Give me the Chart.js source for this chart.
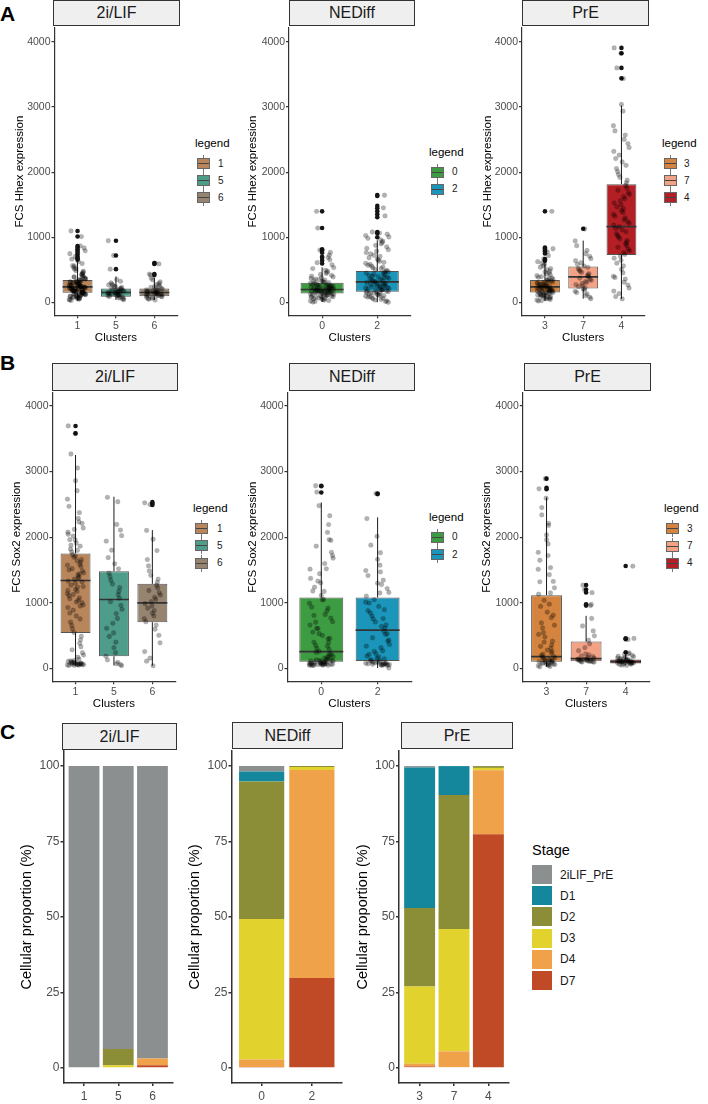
<!DOCTYPE html>
<html>
<head>
<meta charset="utf-8">
<script src="https://cdn.jsdelivr.net/npm/chart.js@4.4.1/dist/chart.umd.min.js"></script>
<style>
  body { margin: 0; background: #fff; font-family: 'Liberation Sans', Arial, sans-serif; }
  #fig { position: relative; width: 708px; height: 1104px; overflow: hidden; background: #fff; }
  canvas { position: absolute; }
  .strip { position: absolute; box-sizing: border-box; border: 1px solid #333; background: #efefef;
           font-size: 16px; color: #1a1a1a; display: flex; align-items: center; justify-content: center; }
  .txt { position: absolute; line-height: 1; color: #1a1a1a; white-space: nowrap; }
  .bkey { position: absolute; width: 15px; height: 17px; }
  .bkey s { position: absolute; left: 7px; top: 0; width: 1px; height: 17px; background: #777; }
  .bkey i { position: absolute; left: 1px; top: 3px; width: 11px; height: 9px; border: 1px solid #666; }
  .bkey b { position: absolute; left: 2px; top: 8px; width: 11px; height: 1px; background: #444; }
  .skey { position: absolute; width: 20px; height: 19px; }
</style>
</head>
<body>
<div id="fig"></div>
<script>
// ---- data ----
const CLUSTERS_2iLIF = ['1', '5', '6'];
const CLUSTERS_NEDiff = ['0', '2'];
const CLUSTERS_PrE = ['3', '7', '4'];

const COLORS_2iLIF = ['#b9855a', '#4e9c8a', '#978470'];
const COLORS_NEDiff = ['#3d9b42', '#1b95b9'];
const COLORS_PrE = ['#d4843e', '#f4a286', '#b41f25'];

const Y_TICKS_EXPR = [0, 1000, 2000, 3000, 4000];
const Y_TICKS_PROP = [0, 25, 50, 75, 100];

// box stats: [lower whisker, q1, median, q3, upper whisker]
const HHEX_STATS_2iLIF = [[32, 149, 241, 344, 630], [40, 87, 154, 215, 400], [38, 97, 154, 215, 380]];
const HHEX_OUT_2iLIF = [
  [1098, 1012, 868, 842, 815, 790, 762, 735, 702, 681, 658],
  [948, 721, 512],
  [605, 592, 437, 421]
];
const HHEX_PTS_2iLIF = [
  [32, 45, 58, 66, 74, 83, 91, 98, 104, 113, 119, 126, 131, 138, 144, 151, 157, 162, 169, 176, 181, 188, 194, 201, 207, 214, 221, 228, 236, 243, 249, 257, 264, 272, 281, 289, 298, 307, 318, 327, 339, 351, 362, 376, 391, 404, 422, 441, 463, 487, 512, 538, 566, 597, 628, 665, 702, 748, 793, 836, 868, 1012, 1098,
   40, 52, 61, 70, 79, 88, 95, 102, 109, 116, 122, 129, 135, 141, 147, 154, 160, 166, 172, 179, 185, 191, 198, 204, 211, 218, 225, 233, 240, 247, 254, 262, 269, 277, 285, 294, 303, 313, 324, 336, 348, 361, 375, 392, 410, 430, 455, 482, 520, 560],
  [42, 55, 68, 81, 92, 101, 108, 116, 124, 131, 139, 146, 152, 159, 167, 174, 182, 191, 199, 208, 219, 232, 246, 263, 281, 302, 326, 352, 512, 721, 948,
   60, 85, 104, 120, 135, 149, 162, 178, 195, 212, 240, 270],
  [38, 52, 64, 77, 88, 96, 104, 112, 119, 127, 134, 141, 149, 156, 163, 171, 179, 188, 197, 207, 218, 231, 248, 269, 293, 318, 347, 372, 421, 437, 592, 605,
   58, 82, 100, 116, 131, 145, 160, 175, 192, 212, 238, 280]
];

const HHEX_STATS_NEDiff = [[8, 138, 200, 303, 540], [4, 164, 318, 482, 955]];
const HHEX_OUT_NEDiff = [
  [1398, 1142, 818, 802, 765, 701, 686, 643, 598],
  [1648, 1635, 1482, 1447, 1398, 1352, 1308, 1082, 1061, 1002]
];
const HHEX_PTS_NEDiff = [
  [8, 22, 38, 51, 63, 74, 85, 94, 103, 111, 119, 126, 134, 141, 148, 155, 162, 169, 176, 183, 190, 197, 204, 212, 220, 228, 237, 246, 255, 264, 275, 286, 298, 311, 326, 342, 360, 381, 404, 431, 462, 497, 536, 578, 612, 655, 690, 725, 768, 805, 1142, 1398,
   15, 30, 45, 57, 69, 80, 89, 98, 107, 115, 123, 130, 137, 144, 151, 158, 165, 172, 179, 186, 193, 200, 208, 216, 224, 232, 241, 250, 260, 270, 281, 292, 305, 318, 334, 351, 370, 392, 418, 446, 480, 520],
  [4, 26, 48, 67, 84, 98, 112, 125, 137, 149, 160, 171, 183, 194, 206, 218, 231, 244, 257, 271, 285, 299, 314, 329, 345, 361, 378, 396, 414, 433, 452, 472, 494, 518, 544, 571, 601, 633, 668, 706, 745, 787, 832, 878, 921, 962, 1005, 1048, 1082, 1328, 1452, 1645,
   14, 37, 58, 76, 91, 105, 118, 131, 143, 155, 166, 177, 189, 200, 212, 224, 237, 250, 264, 278, 292, 306, 321, 337, 353, 370, 387, 405, 423, 442, 462, 483, 506, 531, 558, 586, 617, 650, 687, 725, 766, 810, 855, 900, 942, 984, 1027, 1065]
];

const HHEX_STATS_PrE = [[22, 154, 241, 344, 620], [58, 215, 395, 554, 950], [56, 728, 1164, 1815, 3020]];
const HHEX_OUT_PrE = [
  [1398, 843, 828, 807, 785, 752, 665, 641],
  [1132],
  [3905, 3822, 3598, 3438]
];
const HHEX_PTS_PrE = [
  [22, 38, 55, 69, 82, 94, 105, 116, 126, 136, 145, 154, 163, 172, 181, 190, 199, 208, 217, 226, 235, 245, 255, 266, 278, 290, 303, 317, 332, 348, 366, 387, 411, 438, 468, 503, 541, 582, 627, 668, 718, 778, 825, 1398,
   30, 46, 62, 75, 88, 100, 110, 121, 131, 140, 150, 158, 167, 176, 185, 194, 203, 212, 221, 230, 240, 250, 260, 272, 284, 296, 310, 324, 340, 357, 376, 398, 424, 452, 485, 520, 560, 605],
  [58, 82, 108, 131, 152, 172, 191, 209, 226, 243, 259, 276, 292, 308, 324, 341, 357, 374, 391, 408, 425, 443, 461, 480, 499, 519, 540, 562, 586, 612, 641, 673, 708, 748, 801, 872, 945, 1128],
  [56, 92, 138, 175, 221, 268, 312, 359, 384, 402, 455, 508, 562, 603, 648, 681, 712, 738, 765, 791, 818, 846, 871, 898, 924, 951, 978, 1004, 1031, 1058, 1085, 1112, 1138, 1162, 1188, 1214, 1241, 1268, 1296, 1324, 1352, 1381, 1410, 1439, 1468, 1498, 1528, 1559, 1590, 1622, 1655, 1688, 1722, 1758, 1795, 1834, 1875, 1918, 1962, 2008, 2055, 2104, 2155, 2208, 2262, 2318, 2376, 2438, 2502, 2568, 2632, 2711, 2935, 3038, 3435, 3598, 3822, 3905]
];

const SOX2_STATS_2iLIF = [[48, 543, 1340, 1751, 3250], [46, 188, 1051, 1482, 2614], [42, 706, 1000, 1289, 2107]];
const SOX2_OUT_2iLIF = [[3692, 3578], [], [2532, 2508, 2489]];
const SOX2_PTS_2iLIF = [
  [48, 56, 63, 70, 78, 86, 95, 108, 124, 145, 172, 205, 242, 285, 332, 384, 437, 492, 548, 602, 655, 706, 754, 800, 845, 888, 928, 966, 1003, 1039, 1074, 1108, 1141, 1174, 1206, 1238, 1269, 1300, 1331, 1362, 1393, 1424, 1455, 1487, 1519, 1552, 1586, 1621, 1657, 1694, 1733, 1774, 1817, 1862, 1910, 1961, 2016, 2075, 2139, 2209, 2286, 2372, 2468, 2578, 2706, 2858, 3052, 3265, 3578, 3692,
   50, 53, 57, 60, 62, 65, 67, 72, 75, 81, 88, 92, 100, 118, 952, 1012, 1063, 1127, 1188, 1247, 1318, 1376, 1441, 1503, 1572, 1641, 1712, 1798, 1876, 1958, 2043, 2117, 2230],
  [46, 58, 72, 95, 132, 188, 241, 318, 402, 488, 541, 612, 689, 762, 836, 902, 963, 1018, 1071, 1124, 1176, 1231, 1287, 1342, 1398, 1452, 1518, 1594, 1688, 1802, 1938, 2022, 2108, 2192, 2538, 2605],
  [42, 112, 158, 258, 392, 506, 598, 662, 712, 758, 801, 842, 881, 918, 952, 986, 1018, 1051, 1084, 1118, 1152, 1188, 1226, 1268, 1312, 1362, 1418, 1486, 1562, 1658, 1796, 1968, 2102, 2495, 2522]
];

const SOX2_STATS_NEDiff = [[46, 102, 259, 1081, 2528], [8, 117, 584, 1081, 2300]];
const SOX2_OUT_NEDiff = [[2782, 2775, 2680], [2662, 2655]];
const SOX2_PTS_NEDiff = [
  [46, 52, 58, 63, 68, 74, 79, 85, 91, 97, 104, 112, 121, 133, 148, 168, 194, 225, 262, 305, 352, 401, 452, 504, 556, 608, 661, 714, 768, 823, 878, 935, 993, 1052, 1112, 1174, 1238, 1304, 1372, 1443, 1518, 1597, 1680, 1768, 1862, 1963, 2072, 2191, 2325, 2478, 2685, 2782,
   48, 50, 54, 56, 60, 61, 65, 66, 70, 72, 76, 78, 82, 88, 94, 100, 108, 116, 126, 140, 158, 182, 212, 248, 290, 340, 395, 458, 530, 612, 705, 808, 920, 1045, 1180, 1330, 1512, 1720, 1950],
  [8, 48, 56, 64, 72, 81, 90, 101, 115, 133, 158, 190, 228, 271, 318, 367, 418, 469, 519, 568, 616, 663, 709, 755, 801, 848, 896, 945, 996, 1048, 1102, 1158, 1217, 1279, 1345, 1415, 1491, 1573, 1662, 1762, 1878, 2012, 2282, 2662,
   50, 54, 58, 61, 66, 69, 75, 78, 84, 87, 95, 106, 122, 146, 178, 215, 262, 340, 432, 530, 640, 760, 880, 1010, 1150, 1300, 1470]
];

const SOX2_STATS_PrE = [[28, 102, 183, 1117, 2604], [98, 112, 152, 411, 802], [48, 76, 107, 137, 225]];
const SOX2_OUT_PrE = [[2890, 2752, 2728], [1272, 1202, 1158, 978, 958], [1560, 462, 445, 248]];
const SOX2_PTS_PrE = [
  [28, 42, 55, 66, 76, 86, 95, 104, 114, 126, 141, 160, 185, 218, 258, 305, 358, 416, 479, 546, 618, 694, 774, 858, 946, 1038, 1132, 1228, 1326, 1428, 1535, 1648, 1768, 1896, 2032, 2178, 2338, 2592, 2735, 2890,
   32, 48, 60, 70, 80, 90, 99, 109, 120, 134, 150, 172, 200, 236, 282, 338, 402, 520, 660, 812, 980, 1150, 1320, 1510, 1720, 1960, 2210, 2450],
  [98, 104, 110, 116, 123, 131, 140, 152, 168, 192, 225, 272, 318, 376, 432, 498, 572, 648, 762, 958, 975, 1155, 1198, 1268,
   100, 106, 113, 119, 127, 135, 146, 160, 180, 208],
  [48, 62, 72, 80, 86, 92, 98, 104, 110, 116, 123, 131, 140, 152, 168, 188, 212, 238, 442, 458, 1558,
   52, 66, 76, 83, 89, 95, 101, 107, 113, 119, 127, 135, 146, 160, 178, 200, 225]
];

// stacked proportions, one row per stage, one column per cluster
const STAGES = ['2iLIF_PrE', 'D1', 'D2', 'D3', 'D4', 'D7'];
const STAGE_COLORS = ['#8b8f8f', '#15879d', '#8b8e36', '#e2d22d', '#f0a24a', '#c14a26'];
const PROP_2iLIF = [[100, 93.7, 96.9], [0, 0, 0], [0, 5.4, 0], [0, 0.9, 0], [0, 0, 2.2], [0, 0, 0.9]];
const PROP_NEDiff = [[1.8, 0], [3.3, 0], [45.6, 0.3], [46.5, 1.0], [2.5, 68.9], [0.3, 29.8]];
const PROP_PrE = [[0.5, 0, 0], [46.5, 9.6, 0], [26.0, 44.4, 0.6], [25.6, 40.5, 0.8], [0.9, 5.5, 21.2], [0.5, 0, 77.4]];

// fixed horizontal jitter offsets (in cluster units)
const JITTER = [-0.17, 0.09, -0.04, 0.2, -0.12, 0.14, 0.02, -0.21, 0.06, -0.08, 0.17, -0.01, 0.11, -0.15, 0.04,
                0.21, -0.1, 0.07, -0.19, 0.13, -0.06, 0.0, 0.18, -0.13, 0.1, -0.03, 0.15, -0.2, 0.05, -0.09, 0.12];

// ---- layout ----
Chart.defaults.font.family = "'Liberation Sans', Arial, sans-serif";
Chart.defaults.animation = false;

const PAD_T = 12, PAD_R = 4;
const BOX_W = 0.78;
const fig = document.getElementById('fig');

function addEl(cls, css, text) {
  let d = document.createElement('div');
  d.className = cls;
  Object.assign(d.style, css);
  if (text != null) d.textContent = text;
  fig.appendChild(d);
  return d;
}

function txt(x, yc, size, text, color) {
  return addEl('txt', { left: x + 'px', top: (yc - size / 2) + 'px', fontSize: size + 'px', color: color || '#1a1a1a' }, text);
}

function strip(x, y, w, h, text) {
  addEl('strip', { left: x + 'px', top: y + 'px', width: w + 'px', height: h + 'px' }, text);
}

function makeCanvas(g) {
  let c = document.createElement('canvas');
  let w = Math.round(g.yW + (g.right - g.left) + PAD_R);
  let h = Math.round(PAD_T + (g.bottom - g.top) + g.xH);
  c.width = w; c.height = h;
  c.style.left = (g.left - g.yW) + 'px';
  c.style.top = (g.top - PAD_T) + 'px';
  c.style.width = w + 'px'; c.style.height = h + 'px';
  fig.appendChild(c);
  return c;
}

function xScale(labels, g, title) {
  return {
    type: 'linear', min: 0.4, max: labels.length + 0.6, offset: false, stacked: g.stacked,
    afterBuildTicks: s => { s.ticks = labels.map((l, i) => ({ value: i + 1 })); },
    afterFit: s => { s.height = g.xH; },
    ticks: { callback: v => labels[Math.round(v) - 1], font: { size: g.tickFs }, color: '#4d4d4d',
             padding: g.xPad, maxRotation: 0, autoSkip: false },
    grid: { display: true, drawOnChartArea: false, drawTicks: true, tickLength: 3, color: '#333',
            lineWidth: g.lw, offset: false },
    border: { display: true, color: '#333', width: g.lw },
    title: { display: !!title, text: title, color: '#000', padding: 0, font: { size: 11.5, lineHeight: 1 } }
  };
}

function yScale(ticks, g, title) {
  return {
    type: 'linear', min: g.yMin, max: g.yMax, stacked: g.stacked,
    afterBuildTicks: s => { s.ticks = ticks.map(v => ({ value: v })); },
    afterFit: s => { s.width = g.yW; },
    ticks: { callback: v => String(v), font: { size: g.tickFs }, color: '#4d4d4d', padding: 1 },
    grid: { display: true, drawOnChartArea: false, drawTicks: true, tickLength: 3, color: '#333', lineWidth: g.lw },
    border: { display: true, color: '#333', width: g.lw },
    title: { display: true, text: title, color: '#000', padding: 0, font: { size: g.titleFs, lineHeight: 1 } }
  };
}

function baseOptions(g, labels, yTicks, yTitle, xTitle) {
  return {
    responsive: false,
    events: [],
    layout: { padding: { top: PAD_T, right: PAD_R, bottom: 0, left: 0 } },
    plugins: { legend: { display: false }, tooltip: { enabled: false } },
    scales: { x: xScale(labels, g, xTitle), y: yScale(yTicks, g, yTitle) }
  };
}

function boxChart(g, labels, colors, stats, outs, pts, yTitle) {
  let whisk = [], med = [], box = [], jit = [], out = [];
  stats.forEach((s, i) => {
    let x = i + 1;
    whisk.push({ x, y: s[0] }, { x, y: s[1] }, { x, y: null }, { x, y: s[3] }, { x, y: s[4] }, { x, y: null });
    med.push({ x: x - BOX_W / 2, y: s[2] }, { x: x + BOX_W / 2, y: s[2] }, { x, y: null });
    box.push({ x, y: [s[1], s[3]] });
    outs[i].forEach(v => out.push({ x, y: v }));
    pts[i].forEach((v, k) => jit.push({ x: x + JITTER[(k * 7 + i * 3) % JITTER.length], y: v }));
  });
  new Chart(makeCanvas(g), {
    type: 'bar',
    data: {
      datasets: [
        { type: 'line', data: whisk, borderColor: '#1a1a1a', borderWidth: 1, pointRadius: 0, spanGaps: false, order: 5 },
        { type: 'bar', data: box, backgroundColor: colors, borderColor: '#555', borderWidth: 1,
          borderSkipped: false, categoryPercentage: BOX_W, barPercentage: 1, order: 4 },
        { type: 'line', data: med, borderColor: '#333', borderWidth: 1.7, pointRadius: 0, spanGaps: false, order: 3 },
        { type: 'scatter', data: out, pointRadius: 2.3, backgroundColor: '#151515', borderWidth: 0, order: 2 },
        { type: 'scatter', data: jit, pointRadius: 2.4, backgroundColor: 'rgba(0,0,0,0.3)',
          borderColor: 'rgba(0,0,0,0.12)', borderWidth: 0.6, order: 1 }
      ]
    },
    options: baseOptions(g, labels, Y_TICKS_EXPR, yTitle, 'Clusters')
  });
}

function propChart(g, labels, props) {
  let datasets = STAGES.map((st, si) => ({
    label: st,
    data: props[si].map((v, i) => ({ x: i + 1, y: v })),
    backgroundColor: STAGE_COLORS[si], borderWidth: 0,
    categoryPercentage: 0.9, barPercentage: 1
  })).reverse();
  new Chart(makeCanvas(g), {
    type: 'bar',
    data: { datasets },
    options: baseOptions(g, labels, Y_TICKS_PROP, 'Cellular proportion (%)', null)
  });
}

function boxLegend(x, yc, rows, labels, colors, labelX) {
  txt(x, yc, 11.5, 'legend', '#000');
  rows.forEach((ry, i) => {
    let k = addEl('bkey', { left: (x + 1) + 'px', top: (ry - 8.5) + 'px' });
    k.innerHTML = '<s></s><i style="background:' + colors[i] + '"></i><b></b>';
    txt(labelX, ry, 10, labels[i]);
  });
}

// ---- row A : Hhex ----
const rowA = { top: 28, bottom: 315, yMin: -195, yMax: 4210, xH: 28.75, tickFs: 10.5, titleFs: 11.5, lw: 1.2, xPad: 2, stacked: false };
txt(0, 13, 21, 'A', '#000').style.fontWeight = 'bold';
strip(53, 0, 127, 26, '2i/LIF');
strip(289, 0, 126, 26, 'NEDiff');
strip(522, 0, 127, 26, 'PrE');
boxChart({ ...rowA, left: 54, right: 177, yW: 40.5 }, CLUSTERS_2iLIF, COLORS_2iLIF, HHEX_STATS_2iLIF, HHEX_OUT_2iLIF, HHEX_PTS_2iLIF, 'FCS Hhex expression');
boxChart({ ...rowA, left: 289, right: 411, yW: 42 }, CLUSTERS_NEDiff, COLORS_NEDiff, HHEX_STATS_NEDiff, HHEX_OUT_NEDiff, HHEX_PTS_NEDiff, 'FCS Hhex expression');
boxChart({ ...rowA, left: 522, right: 645, yW: 40 }, CLUSTERS_PrE, COLORS_PrE, HHEX_STATS_PrE, HHEX_OUT_PrE, HHEX_PTS_PrE, 'FCS Hhex expression');
boxLegend(195, 144, [163.5, 180.5, 197.5], CLUSTERS_2iLIF, COLORS_2iLIF, 218);
boxLegend(429, 153, [172, 189], CLUSTERS_NEDiff, COLORS_NEDiff, 452);
boxLegend(662, 144, [163.5, 180.5, 197.5], CLUSTERS_PrE, COLORS_PrE, 684);

// ---- row B : Sox2 ----
const rowB = { top: 393, bottom: 681, yMin: -193, yMax: 4193, xH: 28.75, tickFs: 10.5, titleFs: 11.5, lw: 1.2, xPad: 2, stacked: false };
txt(0, 362, 21, 'B', '#000').style.fontWeight = 'bold';
strip(52, 363, 126, 28, '2i/LIF');
strip(289, 363, 126, 28, 'NEDiff');
strip(524, 363, 127, 28, 'PrE');
boxChart({ ...rowB, left: 52, right: 175, yW: 41.5 }, CLUSTERS_2iLIF, COLORS_2iLIF, SOX2_STATS_2iLIF, SOX2_OUT_2iLIF, SOX2_PTS_2iLIF, 'FCS Sox2 expression');
boxChart({ ...rowB, left: 287, right: 411, yW: 40.5 }, CLUSTERS_NEDiff, COLORS_NEDiff, SOX2_STATS_NEDiff, SOX2_OUT_NEDiff, SOX2_PTS_NEDiff, 'FCS Sox2 expression');
boxChart({ ...rowB, left: 523, right: 650, yW: 41.8 }, CLUSTERS_PrE, COLORS_PrE, SOX2_STATS_PrE, SOX2_OUT_PrE, SOX2_PTS_PrE, 'FCS Sox2 expression');
boxLegend(193, 509, [528.5, 545.5, 563], CLUSTERS_2iLIF, COLORS_2iLIF, 217);
boxLegend(429, 518, [537, 554.5], CLUSTERS_NEDiff, COLORS_NEDiff, 452);
boxLegend(664, 509, [528.5, 546, 563], CLUSTERS_PrE, COLORS_PrE, 687);

// ---- row C : stage proportions ----
const rowC = { top: 751, bottom: 1083, yMin: -5, yMax: 105, xH: 21, tickFs: 12, titleFs: 14.5, lw: 1.5, xPad: 3, stacked: true };
txt(0, 731, 21, 'C', '#000').style.fontWeight = 'bold';
strip(62, 723, 115, 27, '2i/LIF');
strip(232, 722, 111, 27, 'NEDiff');
strip(401, 722, 112, 27, 'PrE');
propChart({ ...rowC, left: 63, right: 172, yW: 43.5 }, CLUSTERS_2iLIF, PROP_2iLIF);
propChart({ ...rowC, left: 231, right: 341, yW: 43.5 }, CLUSTERS_NEDiff, PROP_NEDiff);
propChart({ ...rowC, left: 399, right: 509, yW: 43 }, CLUSTERS_PrE, PROP_PrE);

txt(532, 850, 14.5, 'Stage', '#000');
STAGES.forEach((st, i) => {
  let top = 865 + i * 21.2;
  addEl('skey', { left: '532px', top: top + 'px', background: STAGE_COLORS[i] });
  txt(560, top + 9.5, 12, st);
});
</script>
</body>
</html>
